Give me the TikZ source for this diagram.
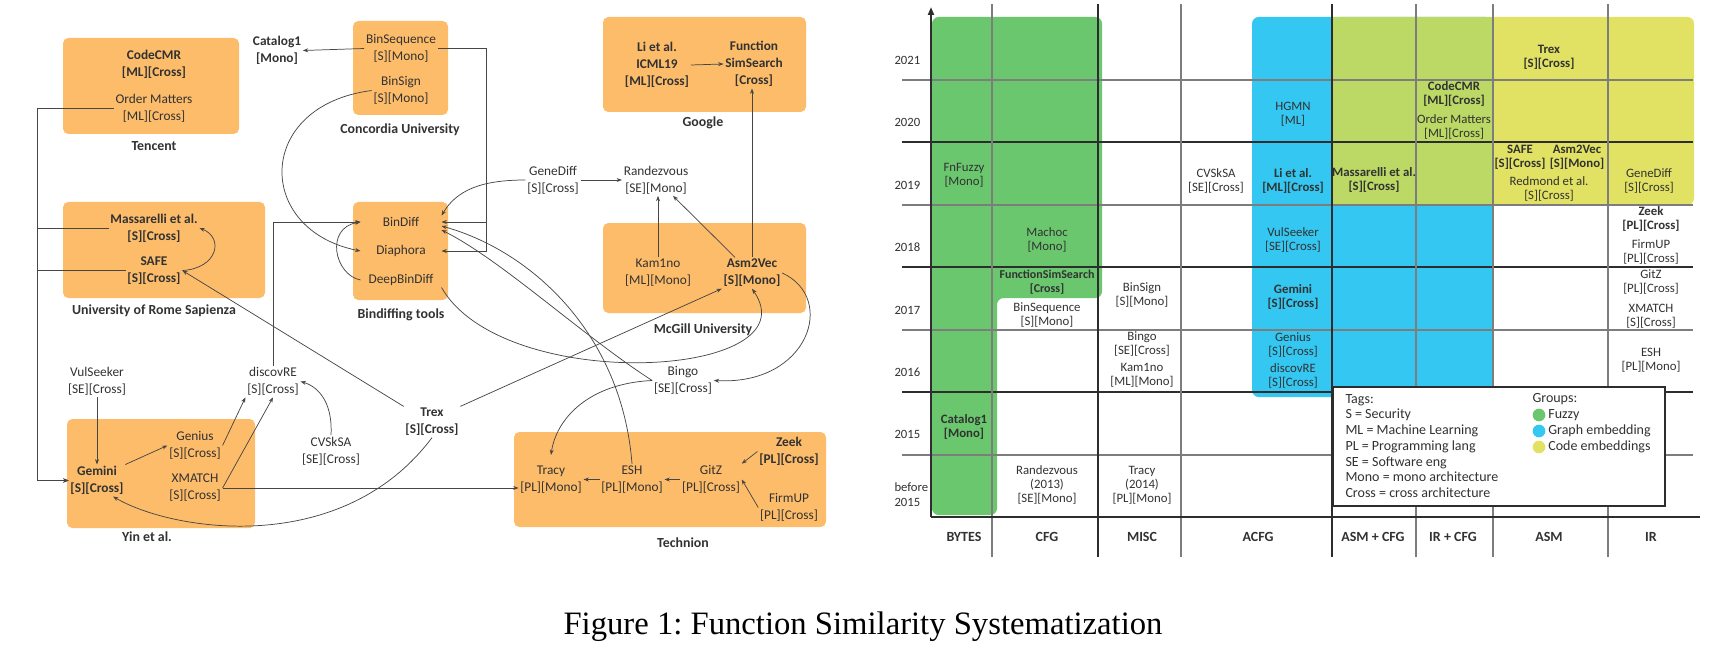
\documentclass[tikz,border=0pt]{standalone}
\usepackage{fontspec}
\setmainfont{Carlito}
\newfontfamily\capfont{Liberation Serif}
\usetikzlibrary{arrows.meta,calc,positioning}
\frenchspacing

\definecolor{orgbox}{RGB}{253,188,106}
\definecolor{fuzzy}{RGB}{106,199,110}
\definecolor{graphemb}{RGB}{51,199,241}
\definecolor{codeemb}{RGB}{225,226,100}
\definecolor{mixemb}{RGB}{187,217,100}
\definecolor{txt}{RGB}{50,50,50}
\definecolor{wire}{RGB}{70,70,70}
\definecolor{gridgray}{RGB}{125,125,125}
\definecolor{griddark}{RGB}{45,45,45}

\tikzset{every picture/.style={line width=0.75pt}}
\tikzset{
  grp/.style={fill=orgbox, rounded corners=4pt},
  meth/.style={align=center, inner sep=1pt, text=txt, font=\fontsize{10}{12.75}\selectfont},
  bmeth/.style={meth, font=\fontsize{10}{12.75}\selectfont\bfseries},
  tool/.style={meth, minimum width=60pt},
  grplbl/.style={inner sep=1pt, text=txt, font=\fontsize{10.4}{12}\selectfont\bfseries},
  arr/.style={draw=wire, line width=0.55pt, -{Stealth[length=4pt,width=3pt]}},
  cell/.style={align=center, inner sep=0pt, text=txt, font=\fontsize{9.6}{10.5}\selectfont},
  bcell/.style={cell, font=\fontsize{9.6}{10.5}\selectfont\bfseries},
  yr/.style={anchor=west, align=left, inner sep=0pt, text=txt, font=\fontsize{9.5}{11.5}\selectfont},
  collbl/.style={inner sep=0pt, text=txt, font=\fontsize{10.5}{12}\selectfont\bfseries},
  legtxt/.style={anchor=west, align=left, inner sep=0pt, text=txt, font=\fontsize{10.5}{11.8}\selectfont},
  dot/.style={circle, inner sep=0pt, minimum size=9.5pt}
}

\begin{document}
\begin{tikzpicture}[x=0.75pt,y=0.75pt,yscale=-1,xscale=1]
\path[use as bounding box] (0,0) rectangle (1731,656);

%%%%%%%%%% left: who builds on whom %%%%%%%%%%

%Shape: group boxes
\fill[grp] (63,38) rectangle (239,134);
\fill[grp] (353,21) rectangle (448,115);
\fill[grp] (63,202) rectangle (265,298);
\fill[grp] (353,202) rectangle (448,300);
\fill[grp] (603,17) rectangle (806,112);
\fill[grp] (603,223) rectangle (806,313);
\fill[grp] (67,419) rectangle (255,528);
\fill[grp] (514,432) rectangle (826,527);

% Text Node: group labels
\node[grplbl] (tencent) at (154,146) {Tencent};
\node[grplbl] (concordia) at (400,130) {Concordia University};
\node[grplbl] (rome) at (154,311) {University of Rome Sapienza};
\node[grplbl] (bindifftools) at (401,315) {Bindiffing tools};
\node[grplbl] (google) at (703,123) {Google};
\node[grplbl] (mcgill) at (703,330) {McGill University};
\node[grplbl] (yin) at (147,537) {Yin et al.};
\node[grplbl] (technion) at (683,543) {Technion};

% Text Node: methods
\node[bmeth] (codecmr) at (154,64.5) {CodeCMR\\{[ML][Cross]}};
\node[meth] (ordermat) at (154,108) {Order Matters\\{[ML][Cross]}};
\node[bmeth] (catalog) at (277,50.5) {Catalog1\\{[Mono]}};
\node[meth] (binseq) at (401,48.5) {BinSequence\\{[S][Mono]}};
\node[meth] (binsign) at (401,90.5) {BinSign\\{[S][Mono]}};
\node[bmeth] (massarelli) at (154,228) {Massarelli et al.\\{[S][Cross]}};
\node[bmeth] (safe) at (154,270.5) {SAFE\\{[S][Cross]}};
\node[tool] (bindiff) at (401,222) {BinDiff};
\node[tool] (diaphora) at (401,251) {Diaphora};
\node[tool] (deepbindiff) at (401,280) {DeepBinDiff};
\node[meth] (genediff) at (553,180) {GeneDiff\\{[S][Cross]}};
\node[meth] (randez) at (656,180) {Randezvous\\{[SE][Mono]}};
\node[bmeth] (liicml) at (657,65) {Li et al.\\ICML19\\{[ML][Cross]}};
\node[bmeth] (funcsim) at (754,64) {Function\\SimSearch\\{[Cross]}};
\node[meth] (kam1no) at (658,273) {Kam1no\\{[ML][Mono]}};
\node[bmeth] (asm2vec) at (752,273) {Asm2Vec\\{[S][Mono]}};
\node[meth] (bingo) at (683,380.5) {Bingo\\{[SE][Cross]}};
\node[bmeth] (trex) at (432,422) {Trex\\{[S][Cross]}};
\node[meth] (vulseeker) at (97,381.5) {VulSeeker\\{[SE][Cross]}};
\node[meth] (discovre) at (273,381.5) {discovRE\\{[S][Cross]}};
\node[meth] (cvsksa) at (331,451) {CVSkSA\\{[SE][Cross]}};
\node[bmeth] (gemini) at (97,480.5) {Gemini\\{[S][Cross]}};
\node[meth] (genius) at (195,445.5) {Genius\\{[S][Cross]}};
\node[meth] (xmatch) at (195,488) {XMATCH\\{[S][Cross]}};
\node[meth] (tracy) at (551,479.5) {Tracy\\{[PL][Mono]}};
\node[meth] (esh) at (632,479.5) {ESH\\{[PL][Mono]}};
\node[meth] (gitz) at (711,479.5) {GitZ\\{[PL][Cross]}};
\node[bmeth] (zeek) at (789,451.5) {Zeek\\{[PL][Cross]}};
\node[meth] (firmup) at (789,507.5) {FirmUP\\{[PL][Cross]}};

%Straight Lines
\draw[arr] (binseq.west) -- (catalog.east);
\draw[arr] (binseq.east) -- ++(49,0) |- (bindiff.east);
\draw[arr] (binseq.east) -- ++(49,0) |- (diaphora.east);
\draw[arr] (discovre.north) |- (bindiff.west);
\draw[arr] (ordermat.west) -| ($(gemini.west)+(-31,0)$) -- (gemini.west);
\draw[arr] (massarelli.west) -| ($(gemini.west)+(-31,0)$) -- (gemini.west);
\draw[arr] (safe.west) -| ($(gemini.west)+(-31,0)$) -- (gemini.west);
\draw[arr] (genediff.east) -- (randez.west);
\draw[arr] (liicml.east) -- (funcsim.west);
\draw[arr] (kam1no.north) -- (kam1no.north |- randez.south);
\draw[arr] ($(asm2vec.north)+(-17,0)$) -- ($(randez.south)+(17,0)$);
\draw[arr] (asm2vec.north) -- (asm2vec.north |- funcsim.south);
\draw[arr] (trex.north east) -- (asm2vec.south west);
\draw[arr] (trex.north west) -- (safe.east);
\draw[arr] (vulseeker.south) -- (gemini.north);
\draw[arr] (gemini.north east) -- (genius.west);
\draw[arr] (genius.east) -- (discovre.south west);
\draw[arr] (xmatch.east) -- (discovre.south);
\draw[arr] (xmatch.east) -- (xmatch.east -| tracy.west);
\draw[arr] (esh.west) -- (tracy.east);
\draw[arr] (gitz.west) -- (esh.east);
\draw[arr] (zeek.west) -- (gitz.north east);
\draw[arr] (firmup.west) -- (gitz.east);

%Curve Lines
\draw[arr] (binsign.west) .. controls +(-117,15) and +(-106,-21) .. (diaphora.west);
\draw[arr] (deepbindiff.west) .. controls +(-26,-5) and +(-36,6) .. (bindiff.west);
\draw[arr] (genediff.west) .. controls +(-45,0) and +(15,-25) .. (bindiff.north east);
\draw[arr] (safe.east) .. controls +(35,-2) and +(25,10) .. (massarelli.east);
\draw[arr] (cvsksa.north) .. controls +(2,-37) and +(14,4) .. (discovre.east);
\draw[arr] (bingo.west) .. controls +(-70,-45) and +(60,30) .. ($(bindiff.east)+(0,8)$);
\draw[arr] (esh.north) .. controls +(-10,-130) and +(90,25) .. ($(bindiff.east)+(0,4)$);
\draw[arr] (bingo.west) .. controls +(-65,3) and +(5,-35) .. ($(tracy.north)+(0,-9)$);
\draw[arr] (asm2vec.east) .. controls +(55,25) and +(95,5) .. (bingo.east);
\draw[arr] (deepbindiff.south east) .. controls +(62,108) and +(62,90) .. (asm2vec.south);
\draw[arr] (trex.south) .. controls +(-90,120) and +(60,35) .. ($(gemini.south)+(16,0)$);

%%%%%%%%%% right: timeline grid %%%%%%%%%%

%Shape: groups
\fill[fuzzy, rounded corners=5pt] (932,17) -- (1102,17) -- (1102,298) -- (997,298) -- (997,515) -- (932,515) -- cycle;
\fill[graphemb, rounded corners=5pt] (1252,17) rectangle (1493,397);
\fill[codeemb, rounded corners=5pt] (1332,17) rectangle (1694,205);
\fill[mixemb] (1332,17) rectangle (1493,205);

%Shape: Grid
\foreach \y/\c in {80/gridgray, 142/griddark, 205/gridgray, 267/griddark, 330/gridgray, 392/griddark, 455/gridgray}
  \draw[draw=\c, line width=1pt] (902,\y) -- (1693,\y);
\foreach \x/\c in {992/gridgray, 1098/griddark, 1181/gridgray, 1332/griddark, 1416/gridgray, 1493/gridgray, 1608/gridgray}
  \draw[draw=\c, line width=1pt] (\x,4) -- (\x,557);

%Shape: Axis 2D
\draw[griddark, line width=1.5pt, -{Triangle[length=6pt,width=4.5pt]}] (931,517) -- (931,7);
\draw[griddark, line width=1.5pt] (931,517) -- (1700,517);

% Text Node: years
\foreach \yy/\y in {2021/60, 2020/122, 2019/185, 2018/247, 2017/310, 2016/372, 2015/434}
  \node[yr] (y\yy) at (894,\y) {\yy};
\node[yr] (ybefore) at (894,494.5) {before\\2015};

% Text Node: columns
\foreach \nm/\x/\t in {bytes/964/BYTES, cfg/1047/CFG, misc/1142/MISC, acfg/1258/ACFG, asmcfg/1373/ASM + CFG, ircfg/1453/IR + CFG, asm/1549/ASM, ir/1651/IR}
  \node[collbl] (col-\nm) at (\x,537) {\t};

% Text Node: cells
\node[cell] (c-fnfuzzy) at (964,175) {FnFuzzy\\{[Mono]}};
\node[bcell] (c-catalog) at (964,427) {Catalog1\\{[Mono]}};
\node[cell] (c-machoc) at (1047,240) {Machoc\\{[Mono]}};
\node[bcell, font=\fontsize{9}{10.5}\selectfont\bfseries] (c-fss) at (1047,282) {FunctionSimSearch\\{[Cross]}};
\node[cell] (c-binseq) at (1047,314.5) {BinSequence\\{[S][Mono]}};
\node[cell] (c-randez) at (1047,485) {Randezvous\\(2013)\\{[SE][Mono]}};
\node[cell] (c-binsign) at (1142,295) {BinSign\\{[S][Mono]}};
\node[cell] (c-bingo) at (1142,344) {Bingo\\{[SE][Cross]}};
\node[cell] (c-kam1no) at (1142,375) {Kam1no\\{[ML][Mono]}};
\node[cell] (c-tracy) at (1142,485) {Tracy\\(2014)\\{[PL][Mono]}};
\node[cell] (c-cvsksa) at (1216,181) {CVSkSA\\{[SE][Cross]}};
\node[cell] (c-hgmn) at (1293,114) {HGMN\\{[ML]}};
\node[bcell] (c-li) at (1293,181) {Li et al.\\{[ML][Cross]}};
\node[cell] (c-vulseeker) at (1293,240) {VulSeeker\\{[SE][Cross]}};
\node[bcell] (c-gemini) at (1293,297) {Gemini\\{[S][Cross]}};
\node[cell] (c-genius) at (1293,345) {Genius\\{[S][Cross]}};
\node[cell] (c-discovre) at (1293,376) {discovRE\\{[S][Cross]}};
\node[bcell] (c-massarelli) at (1374,180) {Massarelli et al.\\{[S][Cross]}};
\node[bcell] (c-codecmr) at (1454,93.5) {CodeCMR\\{[ML][Cross]}};
\node[cell] (c-ordermat) at (1454,127) {Order Matters\\{[ML][Cross]}};
\node[bcell] (c-trex) at (1549,57) {Trex\\{[S][Cross]}};
\node[bcell] (c-safe) at (1520,157) {SAFE\\{[S][Cross]}};
\node[bcell] (c-asm2vec) at (1577,157) {Asm2Vec\\{[S][Mono]}};
\node[cell] (c-redmond) at (1549,189) {Redmond et al.\\{[S][Cross]}};
\node[cell] (c-genediff) at (1649,181) {GeneDiff\\{[S][Cross]}};
\node[bcell] (c-zeek) at (1651,219) {Zeek\\{[PL][Cross]}};
\node[cell] (c-firmup) at (1651,252) {FirmUP\\{[PL][Cross]}};
\node[cell] (c-gitz) at (1651,282) {GitZ\\{[PL][Cross]}};
\node[cell] (c-xmatch) at (1651,316) {XMATCH\\{[S][Cross]}};
\node[cell] (c-esh) at (1651,360.5) {ESH\\{[PL][Mono]}};

%Shape: legend
\draw[griddark, line width=1.4pt, fill=white] (1333,387) rectangle (1665,506);
\node[legtxt] (tags) at (1345,446) {Tags:\\S = Security\\ML = Machine Learning\\PL = Programming lang\\SE = Software eng\\Mono = mono architecture\\Cross = cross architecture};
\node[legtxt] (groups) at (1532,399) {Groups:};
\node[dot, fill=fuzzy] (d-fuzzy) at (1539,415) {};
\node[dot, fill=graphemb] (d-graph) at (1539,431) {};
\node[dot, fill=codeemb] (d-code) at (1539,447) {};
\node[legtxt, right=1.5pt of d-fuzzy] (l-fuzzy) {Fuzzy};
\node[legtxt, right=1.5pt of d-graph] (l-graph) {Graph embedding};
\node[legtxt, right=1.5pt of d-code] (l-code) {Code embeddings};

% Text Node: caption
\node[inner sep=0pt, font=\capfont\fontsize{24.5}{28}\selectfont] (caption) at (863,627) {Figure 1: Function Similarity Systematization};

\end{tikzpicture}
\end{document}
